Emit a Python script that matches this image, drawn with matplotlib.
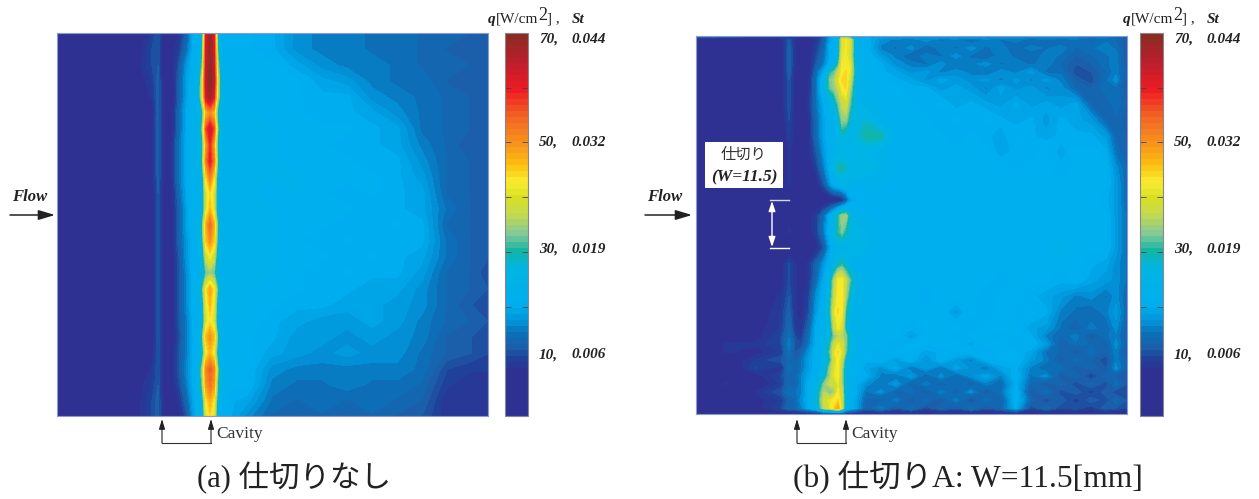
"""Heat-flux maps behind a cavity, without and with a partition."""
import matplotlib
matplotlib.use("Agg")
import matplotlib.pyplot as plt
import numpy as np
from matplotlib.colors import LinearSegmentedColormap

W, H = 1259, 499
JP = ["Liberation Serif", "Noto Sans CJK JP"]

# colour bar stops: q value, colour
cmap_vals = [0, 8, 10, 12, 15, 17, 20, 27, 30, 33, 37, 40, 43, 46, 50, 55, 60, 65, 70]
cmap_cols = ["#2e3192", "#2e3192", "#21409a", "#1c5ca8", "#0a72ba", "#0095da", "#00aeef",
             "#00b5e2", "#13b5a5", "#7fc89a", "#c5d94f", "#d7df23", "#f9ed32", "#fdc010",
             "#f7941e", "#f26522", "#ed1c24", "#be1e2d", "#8b2b24"]
cbar_ticks = [20, 30, 40, 50, 60]
q_labels = ["70,", "50,", "30,", "10,"]
st_labels = ["0.044", "0.032", "0.019", "0.006"]

# (a) no partition: q, rows top to bottom
x_a = [0, 75, 95, 101, 105, 109, 115, 122, 130, 136, 141, 145, 149, 153, 157, 161, 165, 172,
       190, 215, 240, 265, 290, 315, 340, 365, 390, 415, 431]
y_a = [0, 16, 32, 48, 64, 80, 96, 112, 128, 144, 160, 176, 192, 208, 224, 240, 256, 272, 288, 304, 320, 336, 352, 368, 383]
q_a = [
    [6, 6, 10, 12, 8, 7, 7, 9, 13, 20, 22, 25, 60, 68, 60, 26, 22, 21, 21, 20, 17, 16, 16, 15, 15, 14, 14, 13, 12],
    [6, 6, 11, 12, 8, 7, 8, 10, 15, 20, 22, 28, 62, 68, 62, 30, 22, 21, 21, 20, 17, 16, 16, 15, 15, 14, 13, 13, 12],
    [6, 7, 11, 12, 8, 7, 8, 12, 18, 21, 23, 32, 63, 69, 63, 34, 23, 21, 21, 21, 19, 17, 16, 16, 15, 14, 14, 13, 12],
    [6, 6, 10, 13, 9, 7, 7, 13, 19, 21, 23, 38, 64, 70, 64, 38, 23, 22, 22, 21, 21, 19, 18, 16, 15, 15, 13, 13, 13],
    [6, 6, 9, 13, 9, 7, 7, 13, 19, 22, 24, 38, 62, 67, 60, 36, 24, 22, 22, 21, 21, 20, 20, 17, 16, 15, 14, 13, 12],
    [5, 6, 7, 13, 9, 7, 8, 14, 20, 22, 23, 28, 46, 50, 46, 28, 23, 22, 22, 21, 21, 20, 20, 19, 17, 15, 14, 13, 12],
    [5, 6, 8, 13, 9, 7, 8, 14, 20, 22, 23, 32, 56, 63, 56, 32, 24, 22, 22, 22, 21, 21, 21, 20, 19, 15, 14, 13, 12],
    [5, 6, 8, 13, 9, 7, 9, 15, 20, 22, 23, 28, 48, 58, 48, 28, 23, 22, 22, 22, 21, 21, 20, 20, 19, 16, 14, 12, 13],
    [5, 6, 8, 13, 9, 7, 9, 15, 20, 22, 23, 30, 52, 60, 52, 30, 23, 22, 22, 22, 21, 21, 21, 20, 20, 17, 14, 13, 12],
    [5, 6, 7, 13, 9, 7, 9, 15, 20, 22, 22, 26, 44, 52, 44, 26, 23, 22, 22, 22, 22, 21, 21, 21, 20, 18, 14, 13, 12],
    [5, 6, 7, 12, 9, 7, 8, 14, 20, 22, 22, 24, 40, 44, 40, 24, 22, 22, 22, 21, 22, 21, 20, 21, 20, 19, 14, 13, 13],
    [5, 6, 7, 12, 9, 7, 8, 13, 19, 22, 22, 24, 40, 46, 40, 24, 22, 22, 22, 22, 21, 21, 21, 20, 20, 19, 15, 13, 12],
    [5, 6, 7, 12, 9, 7, 8, 13, 19, 22, 23, 30, 47, 54, 47, 30, 23, 22, 22, 22, 21, 21, 20, 20, 21, 20, 14, 13, 12],
    [5, 6, 7, 12, 9, 7, 8, 13, 18, 21, 23, 28, 45, 50, 45, 28, 23, 22, 22, 22, 21, 20, 21, 20, 20, 20, 15, 13, 12],
    [5, 6, 7, 12, 9, 7, 7, 12, 18, 21, 22, 25, 38, 42, 38, 25, 22, 22, 22, 22, 21, 21, 20, 21, 20, 19, 15, 13, 12],
    [5, 6, 7, 12, 9, 7, 7, 12, 17, 21, 22, 24, 32, 34, 32, 24, 22, 22, 22, 22, 21, 20, 21, 20, 20, 18, 14, 13, 11],
    [5, 6, 7, 12, 9, 7, 7, 12, 17, 21, 23, 30, 43, 48, 43, 30, 23, 22, 22, 21, 21, 20, 20, 19, 19, 17, 14, 13, 12],
    [5, 6, 7, 12, 9, 7, 7, 12, 17, 21, 23, 26, 41, 46, 41, 26, 23, 22, 22, 21, 20, 20, 19, 19, 18, 17, 14, 12, 12],
    [5, 6, 7, 12, 9, 7, 7, 12, 16, 20, 22, 24, 40, 43, 40, 24, 22, 21, 22, 20, 19, 18, 18, 19, 18, 16, 14, 13, 12],
    [5, 6, 7, 12, 9, 7, 7, 11, 16, 20, 23, 30, 46, 50, 46, 30, 23, 21, 21, 20, 18, 18, 17, 18, 17, 16, 13, 12, 11],
    [5, 6, 8, 12, 9, 7, 8, 12, 16, 20, 22, 26, 42, 46, 42, 26, 22, 21, 21, 19, 18, 17, 18, 17, 17, 15, 13, 12, 11],
    [5, 6, 9, 12, 9, 7, 8, 12, 17, 20, 24, 34, 51, 55, 51, 32, 24, 21, 21, 17, 16, 16, 16, 16, 16, 15, 11, 10, 10],
    [5, 7, 10, 12, 9, 7, 8, 11, 16, 20, 24, 32, 49, 53, 49, 30, 23, 21, 21, 16, 15, 15, 16, 15, 15, 14, 10, 9, 9],
    [5, 7, 11, 13, 9, 7, 7, 9, 14, 19, 22, 26, 43, 47, 43, 26, 22, 20, 19, 15, 14, 15, 14, 15, 14, 13, 9, 9, 9],
    [5, 7, 11, 13, 9, 7, 7, 8, 12, 18, 21, 24, 40, 44, 40, 24, 21, 20, 17, 14, 13, 14, 13, 14, 13, 12, 9, 9, 9],
]

# (b) partition A, W=11.5
x_b = [0, 30, 60, 85, 93, 99, 105, 112, 120, 128, 134, 138, 142, 146, 150, 154, 160,
       170, 185, 200, 215, 230, 245, 260, 275, 290, 305, 320, 335, 350, 365, 380, 395, 410, 420, 431]
y_b = [0, 4, 12, 20, 28, 36, 44, 52, 68, 84, 100, 116, 132, 148, 164, 180, 196, 212, 228, 244, 260, 276, 292,
       300, 308, 316, 324, 332, 340, 348, 356, 364, 372, 378]
q_b = [
    [15, 14, 12, 11, 9, 9, 9, 9, 9, 12, 18, 22, 26, 32, 30, 24, 21, 20, 19, 18, 19, 18, 19, 18, 19, 18, 18, 17, 18, 17, 18, 17, 16, 16, 15, 13],
    [6, 5, 6, 8, 12, 9, 7, 7, 9, 13, 19, 21, 24, 40, 42, 40, 24, 21, 17, 16, 15, 17, 15, 16, 14, 16, 15, 16, 14, 15, 14, 15, 14, 15, 14, 12],
    [5, 5, 5, 7, 13, 9, 7, 7, 10, 14, 20, 21, 24, 40, 42, 40, 24, 21, 16, 15, 17, 14, 16, 15, 17, 15, 16, 14, 16, 15, 16, 14, 15, 16, 15, 12],
    [5, 5, 5, 7, 13, 9, 7, 7, 11, 15, 20, 22, 26, 41, 42, 39, 24, 21, 18, 16, 14, 16, 15, 17, 15, 14, 16, 15, 14, 16, 15, 13, 14, 15, 16, 12],
    [5, 5, 5, 7, 13, 9, 7, 7, 12, 16, 21, 24, 30, 42, 43, 41, 25, 22, 20, 17, 16, 15, 17, 15, 16, 17, 15, 16, 15, 16, 14, 12, 13, 15, 16, 12],
    [5, 5, 5, 7, 13, 8, 7, 7, 14, 20, 30, 32, 37, 43, 44, 41, 26, 22, 20, 19, 17, 18, 16, 17, 16, 15, 17, 16, 18, 15, 15, 11, 12, 14, 16, 13],
    [5, 5, 5, 7, 12, 8, 7, 8, 15, 24, 33, 35, 40, 44, 44, 39, 25, 22, 21, 20, 19, 17, 19, 18, 17, 18, 16, 18, 16, 18, 16, 13, 11, 15, 17, 12],
    [5, 5, 5, 7, 12, 8, 7, 8, 15, 24, 32, 34, 37, 43, 44, 36, 24, 22, 21, 21, 20, 20, 18, 19, 18, 16, 19, 17, 18, 16, 17, 14, 13, 15, 15, 12],
    [5, 5, 5, 7, 12, 8, 7, 9, 15, 20, 23, 26, 32, 37, 39, 32, 25, 23, 22, 21, 21, 20, 21, 19, 20, 19, 18, 20, 18, 19, 18, 19, 14, 13, 15, 13],
    [5, 5, 5, 7, 11, 8, 7, 8, 14, 19, 22, 24, 26, 34, 34, 28, 26, 28, 22, 21, 21, 21, 20, 21, 20, 21, 20, 19, 20, 18, 20, 19, 18, 14, 14, 12],
    [5, 5, 5, 6, 10, 8, 7, 8, 14, 19, 22, 23, 25, 28, 26, 24, 27, 30, 30, 22, 21, 21, 21, 20, 21, 20, 19, 21, 20, 19, 20, 20, 20, 18, 14, 13],
    [5, 5, 5, 6, 9, 8, 7, 8, 12, 18, 21, 23, 24, 25, 25, 24, 25, 25, 23, 21, 21, 21, 21, 21, 21, 21, 19, 20, 20, 21, 19, 21, 21, 20, 15, 13],
    [5, 5, 5, 6, 9, 8, 6, 7, 10, 16, 21, 25, 30, 30, 28, 26, 27, 27, 24, 22, 21, 21, 21, 21, 21, 21, 21, 20, 21, 21, 20, 21, 21, 21, 17, 14],
    [5, 5, 5, 6, 9, 8, 6, 7, 8, 12, 18, 21, 23, 24, 25, 24, 23, 22, 22, 21, 21, 21, 21, 21, 21, 21, 21, 21, 21, 21, 21, 21, 21, 21, 18, 14],
    [5, 5, 5, 6, 7, 7, 6, 6, 6, 6, 6, 7, 7, 8, 12, 18, 20, 21, 21, 21, 21, 21, 21, 21, 21, 21, 21, 21, 21, 21, 21, 21, 21, 20, 18, 14],
    [5, 5, 5, 6, 8, 8, 7, 8, 10, 15, 21, 24, 30, 35, 35, 27, 24, 22, 21, 21, 21, 21, 21, 21, 21, 21, 21, 21, 21, 21, 21, 21, 21, 21, 18, 15],
    [5, 5, 5, 7, 9, 8, 7, 8, 10, 16, 22, 26, 30, 33, 29, 27, 27, 24, 22, 21, 21, 21, 21, 21, 21, 21, 21, 21, 21, 21, 21, 21, 21, 21, 18, 15],
    [5, 5, 5, 6, 7, 7, 6, 6, 8, 12, 19, 22, 24, 24, 24, 25, 26, 24, 22, 21, 21, 21, 21, 21, 21, 21, 21, 21, 21, 21, 24, 21, 21, 21, 18, 15],
    [5, 5, 6, 8, 11, 9, 8, 9, 13, 18, 21, 24, 28, 30, 27, 24, 22, 21, 21, 21, 21, 21, 21, 21, 21, 21, 21, 21, 21, 21, 21, 21, 20, 19, 17, 15],
    [5, 5, 6, 8, 11, 9, 8, 9, 14, 20, 26, 35, 42, 43, 37, 32, 25, 22, 21, 21, 21, 21, 21, 21, 21, 21, 20, 21, 21, 21, 20, 21, 19, 18, 17, 15],
    [5, 5, 7, 9, 12, 9, 8, 10, 17, 21, 28, 37, 43, 43, 35, 28, 24, 22, 21, 21, 21, 20, 21, 21, 21, 20, 21, 21, 20, 19, 18, 16, 17, 15, 17, 14],
    [5, 5, 7, 10, 13, 9, 8, 11, 18, 22, 30, 40, 44, 42, 30, 26, 23, 22, 21, 21, 21, 21, 21, 18, 21, 20, 21, 20, 21, 20, 16, 15, 14, 16, 18, 14],
    [5, 5, 8, 10, 14, 10, 9, 13, 20, 22, 26, 37, 42, 39, 28, 24, 24, 23, 21, 21, 20, 21, 21, 21, 20, 21, 21, 21, 19, 18, 15, 13, 16, 14, 17, 13],
    [5, 7, 8, 11, 15, 11, 10, 14, 20, 23, 27, 33, 36, 36, 33, 27, 23, 22, 21, 21, 18, 21, 21, 20, 21, 21, 20, 21, 20, 16, 14, 16, 12, 15, 16, 13],
    [6, 9, 9, 11, 16, 12, 11, 15, 20, 24, 30, 37, 41, 39, 33, 26, 22, 21, 21, 20, 21, 21, 21, 21, 19, 21, 21, 20, 21, 18, 13, 15, 14, 13, 17, 13],
    [5, 9, 8, 10, 15, 12, 13, 17, 21, 25, 32, 40, 44, 40, 32, 26, 22, 21, 20, 21, 21, 19, 20, 21, 21, 20, 21, 21, 19, 15, 14, 12, 15, 13, 16, 12],
    [5, 7, 10, 12, 14, 13, 15, 18, 21, 24, 30, 39, 43, 37, 27, 24, 22, 20, 21, 18, 21, 17, 21, 18, 16, 20, 21, 21, 18, 16, 12, 15, 13, 11, 16, 13],
    [5, 6, 11, 9, 15, 13, 15, 18, 21, 26, 34, 40, 43, 35, 26, 23, 21, 19, 17, 20, 15, 18, 15, 19, 17, 15, 19, 20, 16, 14, 15, 12, 14, 12, 17, 13],
    [5, 8, 8, 11, 14, 14, 16, 19, 21, 27, 35, 41, 43, 34, 25, 23, 21, 20, 16, 15, 18, 14, 17, 14, 17, 19, 16, 21, 15, 17, 12, 14, 10, 14, 13, 12],
    [5, 9, 7, 10, 14, 13, 16, 20, 23, 33, 38, 37, 41, 35, 25, 22, 20, 17, 15, 18, 13, 16, 13, 15, 13, 16, 14, 20, 14, 12, 14, 11, 14, 11, 15, 12],
    [5, 6, 9, 12, 15, 15, 16, 20, 25, 36, 32, 35, 42, 37, 24, 22, 20, 15, 17, 13, 15, 12, 16, 13, 17, 12, 15, 21, 12, 15, 11, 13, 10, 13, 11, 12],
    [5, 6, 8, 10, 13, 14, 17, 20, 26, 38, 41, 43, 44, 38, 24, 21, 19, 14, 13, 16, 12, 15, 12, 16, 11, 15, 13, 21, 14, 11, 13, 10, 13, 11, 14, 12],
    [5, 6, 8, 11, 14, 14, 16, 20, 24, 37, 41, 44, 48, 39, 24, 21, 19, 13, 16, 12, 15, 11, 14, 12, 15, 12, 14, 20, 11, 14, 11, 12, 10, 13, 12, 11],
    [7, 7, 7, 7, 7, 7, 7, 7, 7, 8, 8, 8, 8, 8, 8, 8, 7, 7, 7, 7, 7, 7, 7, 7, 7, 7, 7, 7, 7, 7, 7, 7, 7, 7, 7, 7],
]


def px_axes(fig, left, top, right, bottom):
    return fig.add_axes([left / W, 1 - bottom / H, (right - left) / W, (bottom - top) / H])


def draw_panel(fig, x, y, q, box, cbox):
    ax = px_axes(fig, *box)
    cs = ax.contourf(x, y, q, levels=levels, cmap=cmap)
    ax.set_ylim(max(y), 0)
    ax.set_xlim(0, max(x))
    ax.set_xticks([])
    ax.set_yticks([])
    for s in ax.spines.values():
        s.set_color("#8c9ad0")
        s.set_linewidth(0.8)
    cax = px_axes(fig, *cbox)
    cb = fig.colorbar(cs, cax=cax)
    cb.set_ticks(cbar_ticks)
    cb.set_ticklabels([])
    cax.tick_params(axis="y", direction="in", left=True, right=True, length=4, width=0.6, color="#444444")
    cb.outline.set_edgecolor("#888888")
    cb.outline.set_linewidth(0.8)
    return ax


def scale_labels(ov, x_q, x_st, x_head):
    bi = dict(family="Liberation Serif", weight="bold", style="italic", color="#222222", fontsize=11, va="center")
    serif = dict(family="Liberation Serif", color="#222222", fontsize=11, va="center")
    for q, st, yy in zip(q_labels, st_labels, [39, 142, 249, 355]):
        ov.text(x_q, yy, q, **bi)
        ov.text(x_st, yy, st, **bi)
    ov.text(x_head, 19, "q", **bi)
    ov.text(x_head + 8, 19, "[W/cm", **serif)
    ov.text(x_head + 50, 15, "2", **{**serif, "fontsize": 13})
    ov.text(x_head + 59, 19, "] ,", **serif)
    ov.text(x_st + 1, 19, "St", **bi)


def flow_and_cavity(ov, x_flow, x_arrow0, x_arrow1, x_c0, x_c1):
    ov.text(x_flow, 197, "Flow", family="Liberation Serif", weight="bold", style="italic",
            fontsize=12, color="#222222", va="center")
    ov.annotate("", xy=(x_arrow1, 215), xytext=(x_arrow0, 215),
                arrowprops=dict(arrowstyle="-|>,head_length=1.0,head_width=0.3", color="#222222", lw=1.1,
                                shrinkA=0, shrinkB=0))
    for xc in (x_c0, x_c1):
        ov.annotate("", xy=(xc, 419), xytext=(xc, 443),
                    arrowprops=dict(arrowstyle="-|>,head_length=0.6,head_width=0.18", color="#222222", lw=0.8,
                                    shrinkA=0, shrinkB=0))
    ov.plot([x_c0, x_c1], [443, 443], color="#333333", lw=0.8)
    ov.text(x_c1 + 5, 434, "Cavity", family="Liberation Serif", fontsize=12.5, color="#333333", va="center")


levels = np.linspace(0, 70, 65)
cmap = LinearSegmentedColormap.from_list(
    "flux", [(v / 70, c) for v, c in zip(cmap_vals, cmap_cols)], N=64)

fig = plt.figure(figsize=(W / 100, H / 100), dpi=100)
draw_panel(fig, x_a, y_a, q_a, (57, 33, 488, 416), (505, 33, 528, 416))
draw_panel(fig, x_b, y_b, q_b, (696, 36, 1127, 414), (1140, 33, 1163, 416))

ov = fig.add_axes([0, 0, 1, 1], zorder=5)
ov.set_xlim(0, W)
ov.set_ylim(H, 0)
ov.axis("off")

scale_labels(ov, 539, 571, 488)
scale_labels(ov, 1174, 1206, 1123)
flow_and_cavity(ov, 12, 10, 55, 162, 211)
flow_and_cavity(ov, 647, 645, 692, 797, 846)

# partition label and width marker on (b)
ov.fill_between([705, 783], 142, 188, color="white", lw=0, zorder=3)
ov.text(744, 155, "仕切り", family=JP, fontsize=11, color="#333333", ha="center", va="center", zorder=4)
ov.text(744, 177, "(W=11.5)", family="Liberation Serif", weight="bold", style="italic",
        fontsize=12.5, color="#222222", ha="center", va="center", zorder=4)
ov.plot([770, 789], [200, 200], color="#d8d8ee", lw=1)
ov.plot([770, 789], [248, 248], color="white", lw=1)
ov.annotate("", xy=(772, 201), xytext=(772, 247),
            arrowprops=dict(arrowstyle="<|-|>,head_length=0.6,head_width=0.2", color="white", lw=1,
                            shrinkA=0, shrinkB=0))

ov.text(197, 478, "(a) 仕切りなし", family=JP, fontsize=22, color="#222222", va="center")
ov.text(793, 478, "(b) 仕切りA: W=11.5[mm]", family=JP, fontsize=22.7, color="#222222", va="center")

fig.savefig("out.png", dpi=100)
